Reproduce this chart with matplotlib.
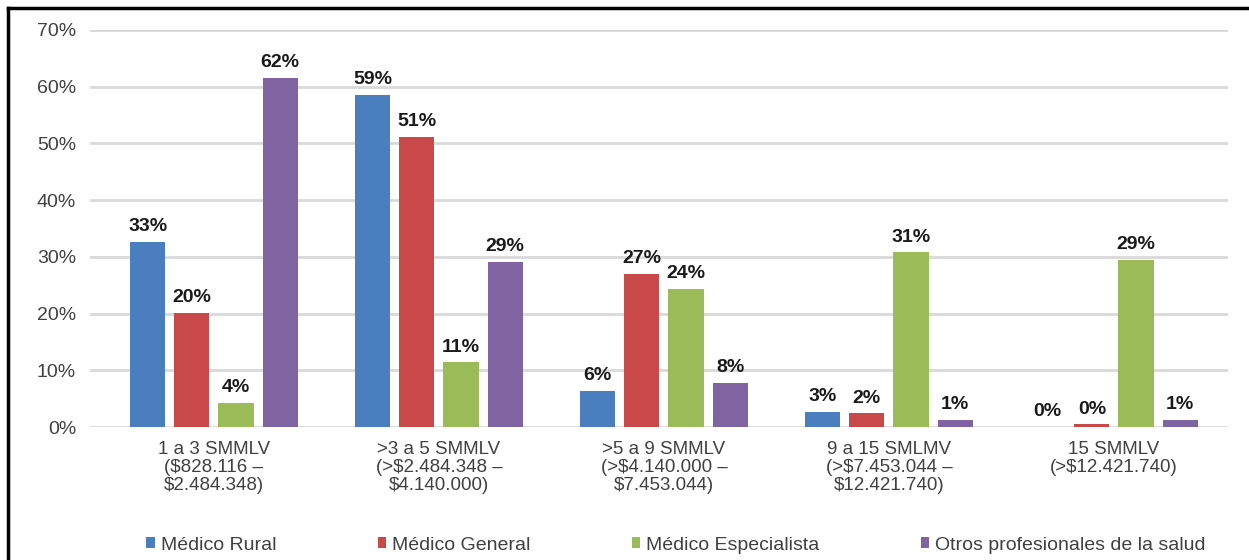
import matplotlib.pyplot as plt
import numpy as np
from matplotlib.lines import Line2D

categories = ['1 a 3 SMMLV\n($828.116 –\n$2.484.348)',
              '>3 a 5 SMMLV\n(>$2.484.348 –\n$4.140.000)',
              '>5 a 9 SMMLV\n(>$4.140.000 –\n$7.453.044)',
              '9 a 15 SMLMV\n(>$7.453.044 –\n$12.421.740)',
              '15 SMMLV\n(>$12.421.740)']
series = ['Médico Rural', 'Médico General', 'Médico Especialista',
          'Otros profesionales de la salud']
rural = [32.6, 58.6, 6.3, 2.6, 0.0]
general = [20.1, 51.2, 27.0, 2.4, 0.45]
especialista = [4.3, 11.4, 24.4, 30.8, 29.4]
otros = [61.6, 29.1, 7.8, 1.3, 1.3]
colors = ['#4a7ebf', '#c9484a', '#9bbb59', '#8064a2']

plt.rcParams['font.family'] = ['Liberation Sans', 'DejaVu Sans']

fig = plt.figure(figsize=(12.49, 5.6), dpi=100)
ax = fig.add_axes([90/1249, 1-427/560, (1228-90)/1249, (427-30)/560])

x = np.arange(len(categories))
w = 0.156
step = 0.196
for k, (vals, name, c) in enumerate(zip([rural, general, especialista, otros], series, colors)):
    pos = x + (k - 1.5) * step
    ax.bar(pos, vals, w, color=c, label=name, zorder=3)
    for px, v in zip(pos, vals):
        ax.text(px, v + 1.2, f'{v:.0f}%', ha='center', va='bottom',
                fontsize=14, fontweight='bold', color='#1a1a1a')

ax.set_ylim(0, 70)
ax.set_xlim(-0.551, 4.507)
ax.set_yticks(range(0, 71, 10))
ax.set_yticklabels([f'{t}%' for t in range(0, 71, 10)])
ax.yaxis.grid(True, color='#d9d9d9', linewidth=2, zorder=0)
ax.set_axisbelow(True)
for s in ax.spines.values():
    s.set_visible(False)
ax.tick_params(axis='both', length=0, labelsize=14, colors='#404040', pad=10)
ax.set_xticks(x)
ax.set_xticklabels(categories, linespacing=1.1, fontsize=13.5)
ax.tick_params(axis='x', pad=10)

fig.legend(loc='center', bbox_to_anchor=(676/1249, 1-545/560), ncol=4,
           frameon=False, fontsize=14, handlelength=0.45, handleheight=0.45,
           handletextpad=0.3, columnspacing=5.2, labelcolor='#404040')

# page frame, top and left edges
fig.add_artist(Line2D([8/1249, 8/1249], [0, 1-8/560], color='black', lw=2.5,
                      transform=fig.transFigure))
fig.add_artist(Line2D([8/1249, 1], [1-8/560, 1-8/560], color='black', lw=2.5,
                      transform=fig.transFigure))

fig.savefig('out.png', dpi=100)
